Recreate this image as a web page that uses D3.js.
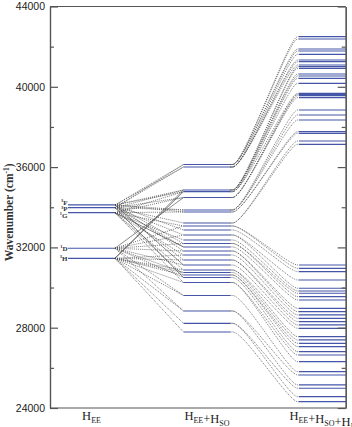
<!DOCTYPE html>
<html>
<head>
<meta charset="utf-8">
<script src="https://cdn.jsdelivr.net/npm/d3@7"></script>
<style>
  body { margin: 0; background: #fff; }
  svg { display: block; }
</style>
</head>
<body>
<div id="chart"></div>
<script>
// columns and their labels (base, subscript pairs)
const columns = ['EE', 'SO', 'L'];
const columnLabels = [
  [['H', 'EE']],
  [['H', 'EE'], ['+H', 'SO']],
  [['H', 'EE'], ['+H', 'SO'], ['+H', 'L']]
];

const yTicksMajor = [24000, 28000, 32000, 36000, 40000, 44000];
const yTicksMinor = [26000, 30000, 34000, 38000, 42000];

// H_EE terms
const termMult = ['3', '3', '1', '1', '3'];
const termL = ['F', 'P', 'G', 'D', 'H'];
const termEnergy = [34114, 33980, 33730, 31957, 31458];

// H_EE + H_SO levels
const soEnergy = [36130, 36005, 34860, 34775, 34486, 33864, 33764, 33216, 33067, 32867,
  32618, 32369, 32195, 32021, 31821, 31622, 31373, 31124, 30875, 30750,
  30626, 30501, 30252, 29605, 28833, 28220, 27787];

// H_EE + H_SO + H_L levels
const lfEnergy = [42496, 42381, 41883, 41783, 41619, 41335, 41250, 41086, 41001, 40922,
  40638, 40538, 40424, 40175, 39676, 39617, 39557, 39457, 38845, 38596,
  38347, 37764, 37684, 37300, 37136,
  31124, 30960, 30790, 30377, 29964, 29829, 29715, 29545, 29381, 28967,
  28798, 28634, 28469, 28300, 28136, 27971, 27553, 27389, 27224, 27055,
  26806, 26641, 26307, 25810, 25645, 25147, 24983, 24564, 24315];
// which SO level each LF level comes from
const lfParent = [0, 0, 0, 0, 1, 1, 1, 1, 2, 2, 2, 2, 3, 3, 3, 4, 4, 4, 5, 5, 5, 6, 6, 7, 7,
  8, 8, 9, 10, 10, 11, 12, 12, 13, 14, 14, 15, 16, 16, 17, 18, 18, 19, 20, 20,
  21, 22, 22, 23, 24, 24, 25, 25, 26];

// term -> SO level links, dotted
const eeLinksDotted = [
  [0, 0], [0, 1], [0, 2], [0, 3], [0, 5], [0, 6], [0, 9], [0, 12], [0, 14],
  [1, 0], [1, 1], [1, 2], [1, 4], [1, 5], [1, 7], [1, 10], [1, 13], [1, 16],
  [2, 3], [2, 4], [2, 6], [2, 8], [2, 11], [2, 15], [2, 18], [2, 20], [2, 22],
  [3, 8], [3, 10], [3, 12], [3, 14], [3, 17], [3, 19], [3, 21], [3, 23], [3, 24],
  [4, 15], [4, 16], [4, 18], [4, 19], [4, 20], [4, 22], [4, 23], [4, 24], [4, 25], [4, 26]
];
// term -> SO level links, solid
const eeLinksSolid = [[4, 2], [3, 4], [4, 3], [0, 17], [2, 13], [1, 21]];

const width = 352, height = 427;
const levelColor = '#4556a8';

const svg = d3.select('#chart').append('svg')
  .attr('width', width)
  .attr('height', height);

const x = d3.scaleBand().domain(columns).range([68, 346]).paddingInner(0.593);
const y = d3.scaleLinear().domain([24000, 44000]).range([408, 6.5]);
const xLeft = 50, xRight = 345.7;

// connectors
const links = svg.append('g').attr('fill', 'none');

const eeLine = (t, s) => d3.line()([[x('EE') + x.bandwidth(), y(termEnergy[t])], [x('SO'), y(soEnergy[s])]]);

links.selectAll('path.dot1')
  .data(eeLinksDotted)
  .enter().append('path')
  .attr('d', d => eeLine(d[0], d[1]))
  .attr('stroke', '#4a4a4a')
  .attr('stroke-width', 0.75)
  .attr('stroke-dasharray', '1,1.1');

links.selectAll('path.solid')
  .data(eeLinksSolid)
  .enter().append('path')
  .attr('d', d => eeLine(d[0], d[1]))
  .attr('stroke', '#3a3a3a')
  .attr('stroke-width', 0.6);

const curve = d3.line().curve(d3.curveBasis);
links.selectAll('path.dot2')
  .data(lfEnergy.map((e, i) => ({ e, p: lfParent[i] })))
  .enter().append('path')
  .attr('d', d => {
    const x0 = x('SO') + x.bandwidth(), x1 = x('L');
    const y0 = y(soEnergy[d.p]), y1 = y(d.e);
    const dx = x1 - x0;
    return curve([[x0, y0], [x0 + 0.14 * dx, y0], [x1 - 0.1 * dx, y1], [x1, y1]]);
  })
  .attr('stroke', '#4a4a4a')
  .attr('stroke-width', 0.75)
  .attr('stroke-dasharray', '1,1.1');

// levels
function drawLevels(col, energies) {
  svg.append('g').selectAll('line')
    .data(energies)
    .enter().append('line')
    .attr('x1', x(col))
    .attr('x2', x(col) + x.bandwidth())
    .attr('y1', d => y(d))
    .attr('y2', d => y(d))
    .attr('stroke', levelColor)
    .attr('stroke-width', 1.2);
}
drawLevels('EE', termEnergy);
drawLevels('SO', soEnergy);
drawLevels('L', lfEnergy);

// term labels, spread a little so they don't overlap
const labelY = termEnergy.map(e => y(e));
for (let i = 1; i < labelY.length; i++) {
  if (labelY[i] - labelY[i - 1] < 6.5) labelY[i] = labelY[i - 1] + 6.5;
}
const shift = (y(termEnergy[0]) + y(termEnergy[2])) / 2 - (labelY[0] + labelY[2]) / 2;
for (let i = 0; i < 3; i++) labelY[i] += shift;

const termText = svg.append('g')
  .attr('font-family', 'Liberation Serif, serif')
  .attr('font-weight', 'bold')
  .attr('fill', '#333')
  .attr('text-anchor', 'end')
  .selectAll('text')
  .data(termL)
  .enter().append('text')
  .attr('x', x('EE') - 0.5)
  .attr('y', (d, i) => labelY[i] + 2.5)
  .attr('font-size', 7);
termText.append('tspan')
  .attr('font-size', 4.5)
  .attr('dy', -2.5)
  .text((d, i) => termMult[i]);
termText.append('tspan')
  .attr('dy', 2.5)
  .text(d => d);

// frame and axes
const axisG = svg.append('g');
axisG.append('g')
  .attr('transform', `translate(${xLeft},0)`)
  .call(d3.axisLeft(y).tickValues(yTicksMajor).tickSize(-8).tickSizeOuter(0).tickPadding(5).tickFormat(d3.format('d')));
axisG.append('g')
  .attr('transform', `translate(${xLeft},0)`)
  .call(d3.axisLeft(y).tickValues(yTicksMinor).tickSize(-4).tickSizeOuter(0).tickFormat(''));
axisG.append('g')
  .attr('transform', `translate(${xRight},0)`)
  .call(d3.axisRight(y).tickValues(yTicksMajor).tickSize(-8).tickSizeOuter(0).tickFormat(''));
axisG.append('g')
  .attr('transform', `translate(${xRight},0)`)
  .call(d3.axisRight(y).tickValues(yTicksMinor).tickSize(-4).tickSizeOuter(0).tickFormat(''));
axisG.append('line')
  .attr('x1', xLeft).attr('x2', xRight).attr('y1', y(44000)).attr('y2', y(44000));
axisG.append('line')
  .attr('x1', xLeft).attr('x2', xRight).attr('y1', y(24000)).attr('y2', y(24000));
axisG.selectAll('path, line')
  .attr('stroke', '#555')
  .attr('stroke-width', 1.2);
axisG.selectAll('text')
  .attr('font-family', 'Liberation Sans, Arial, sans-serif')
  .attr('font-size', 10.5)
  .attr('fill', '#222');

// column labels
const colText = svg.append('g')
  .attr('font-family', 'Liberation Serif, serif')
  .attr('fill', '#222')
  .attr('text-anchor', 'middle')
  .selectAll('text')
  .data(columns)
  .enter().append('text')
  .attr('x', d => x(d) + x.bandwidth() / 2)
  .attr('y', 420)
  .attr('font-size', 12.5);
colText.each(function (d, i) {
  const t = d3.select(this);
  columnLabels[i].forEach(part => {
    t.append('tspan').attr('dy', 0).text(part[0]);
    t.append('tspan').attr('font-size', 8).attr('dy', 3).text(part[1]);
    t.append('tspan').attr('dy', -3).text('');
  });
});

// y axis title
const yTitle = svg.append('text')
  .attr('transform', `translate(13,${(y(36500) + y(31000)) / 2}) rotate(-90)`)
  .attr('text-anchor', 'middle')
  .attr('font-family', 'Liberation Serif, serif')
  .attr('font-weight', 'bold')
  .attr('font-size', 11.5)
  .attr('fill', '#333');
yTitle.append('tspan').text('Wavenumber (cm');
yTitle.append('tspan').attr('font-size', 7.5).attr('dy', -4).text('-1');
yTitle.append('tspan').attr('dy', 4).text(')');
</script>
</body>
</html>
